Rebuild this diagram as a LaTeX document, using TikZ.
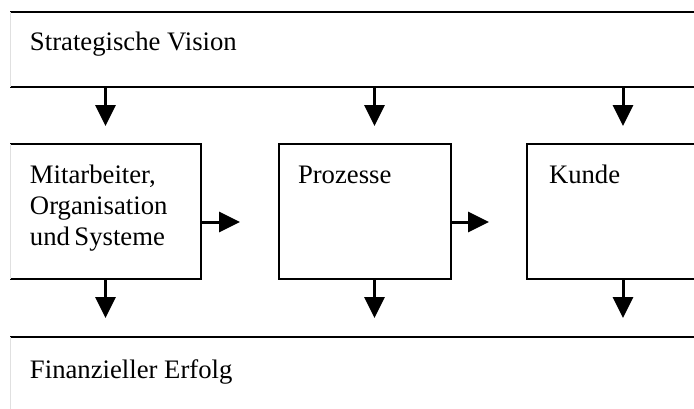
\documentclass[tikz,border=0pt]{standalone}
\usepackage{fontspec}
\setmainfont{Liberation Serif}
\usetikzlibrary{arrows.meta,calc}

\tikzset{
  frame/.style={draw=none, inner sep=0pt, outer sep=0pt, anchor=north west},
  edge/.style={draw=black, line width=1.7pt},
  faintedge/.style={draw=black!12, line width=0.8pt},
  arr/.style={draw=black, line width=3pt,
    -{Triangle[length=21pt, width=20pt]}},
  lbl/.style={inner sep=0pt, outer sep=0pt, font=\fontsize{26.7pt}{31pt}\selectfont}
}

\begin{document}
\begin{tikzpicture}[x=1pt, y=-1pt]
  \useasboundingbox (0,0) rectangle (694,408);
  \clip (0,0) rectangle (694,408);

  % bands across the full width
  \node[frame, minimum width=700pt, minimum height=75pt] (vision) at (10,12) {};
  \node[frame, minimum width=700pt, minimum height=80pt] (finance) at (10,337) {};

  % the three perspective boxes
  \node[frame, minimum width=191pt, minimum height=135pt] (b1) at (10,144) {};
  \node[frame, minimum width=172pt, minimum height=135pt] (b2) at (279,144) {};
  \node[frame, minimum width=192pt, minimum height=135pt] (b3) at (527,144) {};

  % band outlines
  \draw[edge] (vision.north west) -- (vision.north east);
  \draw[edge] (vision.south west) -- (vision.south east);
  \draw[faintedge] (vision.north west) -- (vision.south west);
  \draw[edge] (finance.north west) -- (finance.north east);
  \draw[faintedge] (finance.north west) -- (finance.south west);

  % box outlines
  \draw[edge] (b1.north west) -- (b1.north east) -- (b1.south east) -- (b1.south west);
  \draw[faintedge] (b1.south west) -- (b1.north west);
  \draw[edge] (b2.north west) rectangle (b2.south east);
  \draw[edge] (b3.north east) -- (b3.north west) -- (b3.south west) -- (b3.south east);

  % texts
  \node[lbl, anchor=base west] (tvision) at (30,50) {Strategische Vision};
  \node[lbl, anchor=base west] (tfinance) at (30,378) {Finanzieller Erfolg};
  \node[lbl, anchor=north west, align=left] (tb1) at (30,165)
    {Mitarbeiter,\\Organisation\\und\,Systeme};
  \node[lbl, anchor=base west] (tb2) at (298,183) {Prozesse};
  \node[lbl, anchor=base west] (tb3) at (549,183) {Kunde};

  % free ends of the connectors
  \coordinate (d1) at ($(b1.north)+(0,-18)$);
  \coordinate (d2) at (374.5,126);
  \coordinate (d3) at ($(b3.north)+(0,-18)$);
  \coordinate (u1) at ($(b1.south |- finance.north)+(0,-19)$);
  \coordinate (u2) at (374.5,318);
  \coordinate (u3) at ($(b3.south |- finance.north)+(0,-19)$);
  \coordinate (r1) at (240,222);
  \coordinate (r2) at (489,222);

  % vision feeds each box
  \draw[arr] (vision.south -| d1) -- (d1);
  \draw[arr] (vision.south -| d2) -- (d2);
  \draw[arr] (vision.south -| d3) -- (d3);

  % each box feeds financial success
  \draw[arr] (b1.south) -- (u1);
  \draw[arr] (b2.south -| u2) -- (u2);
  \draw[arr] (b3.south) -- (u3);

  % chain between the boxes
  \draw[arr] (b1.east |- r1) -- (r1);
  \draw[arr] (b2.east |- r2) -- (r2);
\end{tikzpicture}
\end{document}
